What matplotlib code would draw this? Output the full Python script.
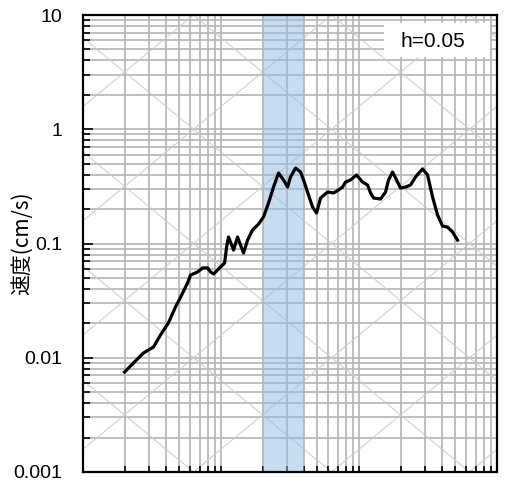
import matplotlib
matplotlib.use("Agg")
import matplotlib.pyplot as plt
import numpy as np
from matplotlib.patches import Rectangle

# period (s) and velocity response (cm/s)
period = [0.100, 0.137, 0.162, 0.182, 0.208, 0.234, 0.255, 0.286, 0.301, 0.338,
          0.368, 0.400, 0.420, 0.442, 0.496, 0.531, 0.549, 0.567, 0.617, 0.659,
          0.728, 0.779, 0.846, 0.936, 1.017, 1.105, 1.201, 1.306, 1.420, 1.518,
          1.595, 1.734, 1.885, 1.982, 2.119, 2.303, 2.462, 2.633, 2.958, 3.269,
          3.554, 3.799, 3.994, 4.342, 4.799, 5.304, 5.768, 6.063, 6.374, 7.164,
          7.787, 8.185, 8.750, 9.200, 10.00, 10.87, 11.82, 12.84, 14.43, 15.70,
          17.06, 18.54, 20.16, 21.91, 23.82, 25.88]
velocity = [0.0075, 0.0110, 0.0124, 0.0158, 0.0202, 0.0278, 0.0340, 0.0451, 0.0530, 0.0563,
            0.0611, 0.0611, 0.0563, 0.0541, 0.0623, 0.0675, 0.0932, 0.114, 0.0877, 0.114,
            0.0826, 0.107, 0.131, 0.148, 0.171, 0.226, 0.312, 0.414, 0.360, 0.312,
            0.382, 0.458, 0.422, 0.360, 0.282, 0.209, 0.185, 0.250, 0.282, 0.277,
            0.294, 0.312, 0.345, 0.360, 0.398, 0.345, 0.325, 0.277, 0.250, 0.245,
            0.282, 0.360, 0.422, 0.375, 0.306, 0.312, 0.325, 0.382, 0.449, 0.398,
            0.255, 0.178, 0.142, 0.139, 0.126, 0.107]

band = (1.0, 2.0)
x_range = (0.05, 50)
y_range = (0.001, 10)
y_ticks = [0.001, 0.01, 0.1, 1, 10]
y_labels = ["0.001", "0.01", "0.1", "1", "10"]
x_steps = [1, 1.5, 2, 2.5, 3, 3.5, 4, 4.5, 5]
damping = "h=0.05"

plt.rcParams['font.family'] = ['Liberation Sans', 'DejaVu Sans']

fig = plt.figure(figsize=(5.08, 4.83), dpi=100)
ax = fig.add_axes([83/508, 1 - 472/483, 414/508, 457/483])
ax.set_xscale('log')
ax.set_yscale('log')
ax.set_xlim(*x_range)
ax.set_ylim(*y_range)

grid_c = '#b4b4b4'
xg = [m * 10.0**k for k in range(-2, 3) for m in x_steps]
xg = [v for v in xg if x_range[0] < v < x_range[1]]
yg = [m * 10.0**k for k in range(-3, 1) for m in range(1, 10)]
for v in xg:
    ax.axvline(v, color=grid_c, lw=1.2, zorder=1)
for v in yg:
    if y_range[0] < v < y_range[1]:
        ax.axhline(v, color=grid_c, lw=1.2, zorder=1)

# tripartite diagonals
tt = np.array(x_range)
for c in np.arange(-4.5, 3.0, 1.0):
    ax.plot(tt, tt * 10**c, color='#cbcbcb', lw=0.7, zorder=1.2)
    ax.plot(tt, 10**c / tt, color='#cbcbcb', lw=0.7, zorder=1.2)

ax.axvspan(*band, color='#8fbde0', alpha=0.5, lw=0, zorder=2)

ax.plot(period, velocity, color='black', lw=2.3, zorder=4)

ax.add_patch(Rectangle((0.727, 0.908), 0.256, 0.075, transform=ax.transAxes,
                       facecolor='white', edgecolor='none', zorder=5))
ax.text(0.845, 0.943, damping, transform=ax.transAxes, ha='center', va='center',
        fontsize=15, zorder=6)

ax.xaxis.set_major_locator(matplotlib.ticker.FixedLocator(xg))
ax.xaxis.set_minor_locator(matplotlib.ticker.NullLocator())
ax.set_yticks(y_ticks)
ax.set_yticklabels(y_labels)
ax.yaxis.set_minor_locator(matplotlib.ticker.FixedLocator(yg))
ax.yaxis.set_minor_formatter(matplotlib.ticker.NullFormatter())
ax.tick_params(axis='x', direction='in', length=4, width=1.2, labelbottom=False)
ax.tick_params(axis='y', which='major', direction='in', length=7, width=1.2,
               labelsize=14, pad=15)
ax.tick_params(axis='y', which='minor', direction='in', length=5, width=1.2)

for s in ax.spines.values():
    s.set_linewidth(1.6)
    s.set_zorder(7)

ax.set_ylabel("速度(cm/s)", family=['Noto Sans CJK JP', 'DejaVu Sans'], fontsize=15)
ax.yaxis.set_label_coords(-0.122, 0.5)

fig.savefig("out.png", dpi=100)
